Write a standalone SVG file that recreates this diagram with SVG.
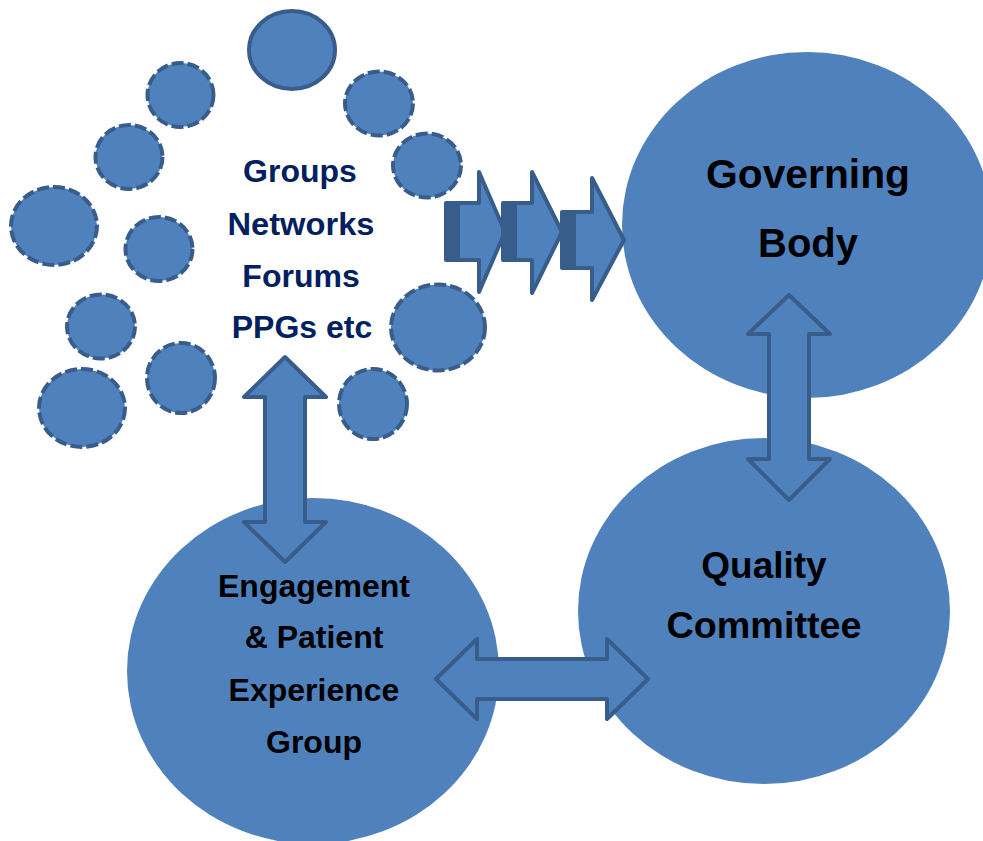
<svg xmlns="http://www.w3.org/2000/svg" width="983" height="841" viewBox="0 0 983 841">
<style>
.big{fill:#4F81BD;stroke:none}
.sm{fill:#4F81BD;stroke:#385D8A;stroke-width:4;stroke-dasharray:12 4}
.solid{fill:#4F81BD;stroke:#385D8A;stroke-width:4}
.arr{fill:#4F81BD;stroke:#385D8A;stroke-width:4;stroke-linejoin:round}
.stripe{fill:#385D8A}
.t{font-family:"Liberation Sans",Arial,sans-serif;font-weight:bold;text-anchor:middle}
.cloud{fill:#002060;font-size:32px}
.blk{fill:#000000}
</style>
<rect width="983" height="841" fill="#FFFFFF"/>
<g id="governing-body">
<ellipse class="big" cx="807" cy="225" rx="185" ry="173"/>
<text class="t blk" x="808" y="188" font-size="40" textLength="204" lengthAdjust="spacingAndGlyphs">Governing</text>
<text class="t blk" x="808" y="257" font-size="40">Body</text>
</g>
<g id="quality-committee">
<ellipse class="big" cx="764" cy="611" rx="186" ry="173"/>
<text class="t blk" x="764" y="578" font-size="37">Quality</text>
<text class="t blk" x="764" y="638" font-size="37" textLength="195" lengthAdjust="spacingAndGlyphs">Committee</text>
</g>
<g id="engagement-group">
<ellipse class="big" cx="313" cy="671" rx="186" ry="173"/>
<text class="t blk" x="314" y="597" font-size="32">Engagement</text>
<text class="t blk" x="314" y="648" font-size="32">&amp; Patient</text>
<text class="t blk" x="314" y="701" font-size="32">Experience</text>
<text class="t blk" x="314" y="753" font-size="32">Group</text>
</g>
<g id="groups-cloud">
<ellipse class="solid" cx="292" cy="50" rx="43" ry="39"/>
<ellipse class="sm" cx="180.5" cy="95" rx="33" ry="32"/>
<ellipse class="sm" cx="379" cy="103.5" rx="34" ry="32"/>
<ellipse class="sm" cx="129" cy="157" rx="33.5" ry="32"/>
<ellipse class="sm" cx="427" cy="165.5" rx="34" ry="32"/>
<ellipse class="sm" cx="54" cy="226" rx="43" ry="39"/>
<ellipse class="sm" cx="159" cy="249" rx="33.5" ry="32"/>
<ellipse class="sm" cx="101" cy="326.5" rx="34" ry="32"/>
<ellipse class="sm" cx="438" cy="327.5" rx="47" ry="43"/>
<ellipse class="sm" cx="82" cy="408" rx="43" ry="39"/>
<ellipse class="sm" cx="181" cy="378" rx="34" ry="35"/>
<ellipse class="sm" cx="373" cy="404" rx="34" ry="35"/>
<text class="t cloud" x="300" y="182">Groups</text>
<text class="t cloud" x="301" y="235" textLength="147" lengthAdjust="spacingAndGlyphs">Networks</text>
<text class="t cloud" x="301" y="287">Forums</text>
<text class="t cloud" x="302" y="338">PPGs etc</text>
</g>
<g id="connectors">
<polygon class="arr" points="446,203 479,203 479,172 505,232 479,292 479,260 446,260"/>
<rect class="stripe" x="446" y="203" width="14" height="57"/>
<polygon class="arr" points="503,203 532,203 532,172 562,232 532,293 532,260 503,260"/>
<rect class="stripe" x="503" y="203" width="14" height="57"/>
<polygon class="arr" points="562,212 592,212 592,178 624,240 592,300 592,268 562,268"/>
<rect class="stripe" x="562" y="212" width="14" height="56"/>
<polygon class="arr" points="285,357 326,397 305,397 305,522 326,522 285,562 244,522 265,522 265,397 244,397"/>
<polygon class="arr" points="789,295 830,334 809,334 809,459 830,459 789,500 748,459 769,459 769,334 748,334"/>
<polygon class="arr" points="436,679 477,639 477,659 607,659 607,639 648,679 607,719 607,699 477,699 477,719"/>
</g>
</svg>
